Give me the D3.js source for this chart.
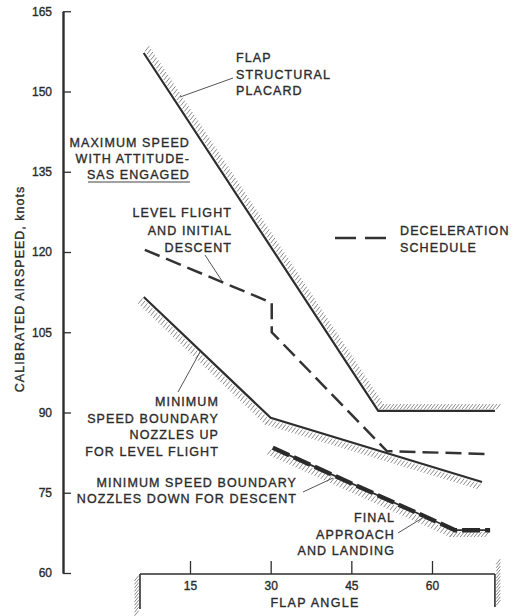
<!DOCTYPE html>
<html>
<head>
<meta charset="utf-8">
<script src="https://cdn.jsdelivr.net/npm/d3@7"></script>
<style>
  body { margin: 0; background: #fff; }
  svg text { font-family: "Liberation Sans", Arial, sans-serif; fill: #2b2b2b; stroke: #2b2b2b; stroke-width: 0.35px; }
</style>
</head>
<body>
<svg width="521" height="616"></svg>
<script>
// ticks
var flapTicks = [15, 30, 45, 60];
var speedTicks = [60, 75, 90, 105, 120, 135, 150, 165];
var flapAxisEnds = [5.7, 71.7];

// boundaries (flap angle, deg / airspeed, knots)
var placardFlap = [6.4, 50, 71.7];
var placardSpeed = [157.2, 90.3, 90.3];

var nozzlesUpFlap = [6.4, 30, 69.3];
var nozzlesUpSpeed = [111.6, 89.0, 77.0];

var nozzlesDownFlap = [30.4, 64.3, 70.8];
var nozzlesDownSpeed = [83.4, 68.0, 68.0];

// deceleration schedule
var levelFlightFlap = [6.6, 30.2, 30.2, 51.6, 70.8];
var levelFlightSpeed = [120.4, 110.5, 105.0, 82.8, 82.2];

var finalApproachFlap = [30.4, 64.3, 70.8];
var finalApproachSpeed = [83.4, 68.0, 68.0];

var svg = d3.select("svg");

var x = d3.scaleLinear().domain([15, 60]).range([190, 432]);
var y = d3.scaleLinear().domain([60, 165]).range([573, 11.25]);

var ink = "#2e2e2e", hatchInk = "#8a8a8a";

function pts(fx, sy) {
  return fx.map(function(f, i) { return [x(f), y(sy[i])]; });
}

var line = d3.line();

// short "/" strokes along one side of a boundary
function hatch(points, dir) {
  var segs = [];
  for (var i = 0; i < points.length - 1; i++) {
    var a = points[i], b = points[i + 1];
    var len = Math.hypot(b[0] - a[0], b[1] - a[1]);
    var n = Math.floor(len / 3.4);
    for (var k = 0; k <= n; k++) {
      var t = k / n;
      var px = a[0] + (b[0] - a[0]) * t, py = a[1] + (b[1] - a[1]) * t;
      segs.push([px + dir[0] * 0.4, py + dir[1] * 0.4, px + dir[0] * 1.7, py + dir[1] * 1.7]);
    }
  }
  svg.append("g").selectAll("line")
    .data(segs)
    .enter().append("line")
      .attr("x1", function(d) { return d[0]; })
      .attr("y1", function(d) { return d[1]; })
      .attr("x2", function(d) { return d[2]; })
      .attr("y2", function(d) { return d[3]; })
      .attr("stroke", hatchInk)
      .attr("stroke-width", 1);
}

var up = [3.2, -4], down = [-3.2, 4];

// ---- axes ----
var yAxis = svg.append("g")
    .attr("transform", "translate(63,0)")
    .call(d3.axisLeft(y).tickValues(speedTicks).tickSizeInner(-8).tickSizeOuter(0).tickPadding(11));
yAxis.select(".domain").attr("stroke", ink).attr("stroke-width", 2.4);
yAxis.selectAll(".tick line").attr("stroke", ink).attr("stroke-width", 1.3);
yAxis.selectAll("text").attr("font-size", 12).attr("font-family", null).attr("fill", null);

var xBase = y(60) + 1;
var xAxis = svg.append("g")
    .attr("transform", "translate(0," + xBase + ")")
    .call(d3.axisBottom(x).tickValues(flapTicks).tickSizeInner(-13).tickSizeOuter(0).tickPadding(7));
xAxis.select(".domain").remove();
xAxis.selectAll(".tick line").attr("stroke", ink).attr("stroke-width", 1.3);
xAxis.selectAll("text").attr("font-size", 12).attr("font-family", null).attr("fill", null);

svg.append("line")
    .attr("x1", x(flapAxisEnds[0])).attr("x2", x(flapAxisEnds[1]))
    .attr("y1", xBase).attr("y2", xBase)
    .attr("stroke", ink).attr("stroke-width", 1.6);

var leftEnd = [[x(flapAxisEnds[0]), xBase], [x(flapAxisEnds[0]), xBase + 35]];
var rightEnd = [[x(flapAxisEnds[1]), xBase - 8], [x(flapAxisEnds[1]), xBase + 33]];
hatch(leftEnd, down);
hatch(rightEnd, up);
[leftEnd, [[x(flapAxisEnds[1]), xBase], rightEnd[1]]].forEach(function(p) {
  svg.append("path").attr("d", line(p)).attr("fill", "none").attr("stroke", ink).attr("stroke-width", 1.6);
});

svg.append("text")
    .attr("transform", "translate(24,289) rotate(-90)")
    .attr("text-anchor", "middle")
    .attr("font-size", 12.5)
    .attr("letter-spacing", 1)
    .text("CALIBRATED AIRSPEED, knots");

svg.append("text")
    .attr("x", 315).attr("y", 607)
    .attr("text-anchor", "middle")
    .attr("font-size", 12.5)
    .attr("letter-spacing", 1.3)
    .text("FLAP ANGLE");

// ---- boundaries ----
var placard = pts(placardFlap, placardSpeed);
var nozUp = pts(nozzlesUpFlap, nozzlesUpSpeed);
var nozDown = pts(nozzlesDownFlap, nozzlesDownSpeed);
hatch(placard, up);
hatch(nozUp, down);
hatch(nozDown, down);

[placard, nozUp].forEach(function(p) {
  svg.append("path").attr("d", line(p))
    .attr("fill", "none").attr("stroke", ink).attr("stroke-width", 2.2);
});
svg.append("path").attr("d", line(nozDown))
    .attr("fill", "none").attr("stroke", ink).attr("stroke-width", 1.8);

// ---- deceleration schedule ----
svg.append("path").attr("d", line(pts(levelFlightFlap, levelFlightSpeed)))
    .attr("fill", "none").attr("stroke", "#333").attr("stroke-width", 2.5)
    .attr("stroke-dasharray", "16,7");
svg.append("path").attr("d", line(pts(finalApproachFlap, finalApproachSpeed)))
    .attr("fill", "none").attr("stroke", "#2a2a2a").attr("stroke-width", 4.4)
    .attr("stroke-dasharray", "18,5");

// legend
svg.append("path").attr("d", line([[335, 238], [387, 238]]))
    .attr("stroke", "#333").attr("stroke-width", 2.5).attr("stroke-dasharray", "21,9");

// ---- labels ----
function label(lines, xPos, yFirst, anchor, step) {
  var t = svg.append("text")
      .attr("text-anchor", anchor)
      .attr("font-size", 12.5)
      .attr("letter-spacing", 1.1);
  lines.forEach(function(s, i) {
    t.append("tspan").attr("x", xPos).attr("y", yFirst + i * step).text(s);
  });
  return t;
}

label(["FLAP", "STRUCTURAL", "PLACARD"], 236, 62, "start", 16.5);
label(["MAXIMUM SPEED", "WITH ATTITUDE-", "SAS ENGAGED"], 190, 147, "end", 16);
svg.append("line").attr("x1", 88).attr("x2", 190).attr("y1", 182).attr("y2", 182)
    .attr("stroke", "#444").attr("stroke-width", 1.1);
label(["LEVEL FLIGHT", "AND INITIAL", "DESCENT"], 232, 217, "end", 17.5);
label(["DECELERATION", "SCHEDULE"], 400, 235, "start", 17);
label(["MINIMUM", "SPEED BOUNDARY", "NOZZLES UP", "FOR LEVEL FLIGHT"], 219, 406, "end", 16.7);
label(["MINIMUM SPEED BOUNDARY", "NOZZLES DOWN FOR DESCENT"], 297, 487, "end", 16);
label(["FINAL", "APPROACH", "AND LANDING"], 395, 522, "end", 16.5);

// leader lines
var leaders = [
  [[180, 97], [233, 78]],
  [[205, 255], [222, 281]],
  [[178, 392], [200, 352]],
  [[303, 492], [333, 478]],
  [[398, 533], [424, 517]]
];
svg.append("g").selectAll("path")
  .data(leaders)
  .enter().append("path")
    .attr("d", line)
    .attr("stroke", "#555")
    .attr("stroke-width", 1);
</script>
</body>
</html>
